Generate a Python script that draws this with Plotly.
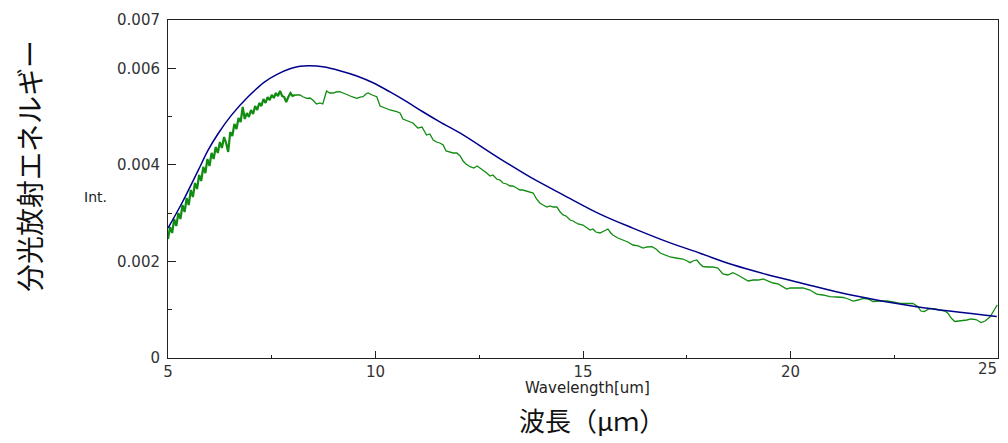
import plotly.graph_objects as go

# Blue (theoretical) curve: wavelength [um], intensity (x1e-3)
blue_x = [5.00, 5.33, 5.73, 5.97, 6.21, 6.53, 6.93, 7.33, 7.64, 7.94, 8.18, 8.42, 8.73, 9.14,
          9.55, 9.94, 10.35, 10.75, 11.14, 11.55, 12.11, 12.92, 13.72, 14.52, 15.41, 16.20,
          17.02, 17.82, 18.61, 19.43, 20.23, 21.43, 23.04, 24.97]
blue_y = [2.69, 3.20, 3.89, 4.31, 4.65, 5.03, 5.41, 5.72, 5.88, 5.99, 6.04, 6.05, 6.03, 5.95,
          5.84, 5.70, 5.51, 5.31, 5.10, 4.89, 4.62, 4.17, 3.75, 3.38, 2.98, 2.69,
          2.41, 2.17, 1.93, 1.73, 1.56, 1.31, 1.06, 0.86]

# Green (measured) curve, noisy part 5-8 um: wavelength [um], intensity (x1e-3)
green_a_x = [5.00, 5.05, 5.10, 5.15, 5.20, 5.25, 5.30, 5.35, 5.40, 5.45, 5.50, 5.55, 5.60, 5.65,
             5.70, 5.75, 5.80, 5.85, 5.90, 5.95, 6.00, 6.05, 6.10, 6.15, 6.20, 6.25, 6.30, 6.35,
             6.40, 6.45, 6.50, 6.55, 6.60, 6.65, 6.70, 6.75, 6.80, 6.85, 6.90, 6.95, 7.00, 7.05,
             7.10, 7.15, 7.20, 7.25, 7.30, 7.35, 7.40, 7.45, 7.50, 7.55, 7.60, 7.65, 7.70, 7.75,
             7.80, 7.85, 7.90, 7.95, 8.00, 8.06]
green_a_y = [2.464, 2.713, 2.589, 2.879, 2.734, 3.003, 2.879, 3.169, 3.024, 3.314, 3.169, 3.479,
             3.334, 3.624, 3.500, 3.790, 3.666, 3.956, 3.831, 4.121, 3.976, 4.246, 4.121, 4.370,
             4.246, 4.473, 4.349, 4.577, 4.453, 4.266, 4.680, 4.598, 4.846, 4.743, 4.970, 4.888,
             5.198, 4.950, 5.074, 4.991, 5.136, 5.053, 5.219, 5.136, 5.281, 5.219, 5.364, 5.281,
             5.405, 5.343, 5.447, 5.385, 5.488, 5.426, 5.530, 5.426, 5.405, 5.302, 5.405, 5.488,
             5.426, 5.447]

# Green (measured) curve, 8-25 um
green_b_x = [8.06, 8.18, 8.25, 8.34, 8.42, 8.49, 8.58, 8.66, 8.73, 8.82, 8.90, 8.98, 9.05, 9.14,
             9.22, 9.31, 9.39, 9.46, 9.55, 9.63, 9.70, 9.77, 9.82, 9.92, 10.03, 10.11, 10.23, 10.35,
             10.51, 10.59, 10.66, 10.78, 10.90, 11.02, 11.12, 11.23, 11.31, 11.39, 11.47, 11.55,
             11.63, 11.70, 11.80, 11.87, 11.96, 12.04, 12.11, 12.18, 12.28, 12.37, 12.45, 12.52,
             12.59, 12.68, 12.76, 12.83, 12.92, 13.00, 13.07, 13.16, 13.24, 13.31, 13.40, 13.48,
             13.55, 13.64, 13.72, 13.80, 13.88, 13.96, 14.04, 14.13, 14.20, 14.28, 14.37, 14.45,
             14.52, 14.59, 14.69, 14.76, 14.88, 15.00, 15.10, 15.17, 15.24, 15.31, 15.41, 15.51,
             15.60, 15.67, 15.72, 15.84, 15.96, 16.08, 16.20, 16.33, 16.45, 16.54, 16.66, 16.76,
             16.86, 16.98, 17.10, 17.24, 17.41, 17.51, 17.58, 17.65, 17.74, 17.82, 17.89, 18.01,
             18.13, 18.25, 18.37, 18.49, 18.61, 18.73, 18.86, 18.98, 19.10, 19.22, 19.34, 19.46,
             19.58, 19.70, 19.82, 19.91, 19.99, 20.13, 20.30, 20.47, 20.63, 20.78, 20.95, 21.12,
             21.27, 21.39, 21.51, 21.63, 21.75, 21.87, 21.99, 22.16, 22.32, 22.47, 22.64, 22.78,
             22.95, 23.07, 23.14, 23.22, 23.36, 23.48, 23.60, 23.72, 23.80, 23.87, 23.96, 24.08,
             24.25, 24.35, 24.47, 24.59, 24.69, 24.81, 24.90, 24.98]
green_b_y = [5.447, 5.447, 5.411, 5.378, 5.385, 5.343, 5.260, 5.281, 5.260, 5.530, 5.488, 5.488,
             5.509, 5.515, 5.488, 5.447, 5.426, 5.405, 5.378, 5.405, 5.411, 5.467, 5.488, 5.447,
             5.411, 5.219, 5.178, 5.136, 5.101, 5.074, 4.950, 4.908, 4.867, 4.763, 4.784, 4.618,
             4.639, 4.515, 4.473, 4.453, 4.411, 4.287, 4.266, 4.246, 4.246, 4.183, 4.080, 4.018,
             3.962, 3.935, 3.976, 3.935, 3.893, 3.831, 3.769, 3.790, 3.707, 3.686, 3.624, 3.604,
             3.562, 3.562, 3.521, 3.479, 3.479, 3.459, 3.438, 3.417, 3.293, 3.210, 3.169, 3.127,
             3.148, 3.127, 3.127, 3.024, 2.962, 2.941, 2.858, 2.837, 2.775, 2.754, 2.692, 2.651,
             2.672, 2.609, 2.589, 2.630, 2.672, 2.589, 2.547, 2.485, 2.444, 2.402, 2.340, 2.320,
             2.278, 2.299, 2.305, 2.257, 2.175, 2.133, 2.092, 2.071, 2.050, 2.009, 1.974, 2.009,
             2.030, 1.947, 1.895, 1.885, 1.885, 1.864, 1.740, 1.719, 1.767, 1.719, 1.657, 1.595,
             1.615, 1.615, 1.636, 1.595, 1.553, 1.533, 1.477, 1.429, 1.450, 1.450, 1.450, 1.408,
             1.325, 1.305, 1.270, 1.263, 1.253, 1.222, 1.180, 1.201, 1.236, 1.222, 1.170, 1.180,
             1.180, 1.160, 1.133, 1.129, 1.133, 1.062, 0.973, 0.963, 1.029, 1.015, 0.994, 0.973,
             0.922, 0.828, 0.756, 0.766, 0.787, 0.808, 0.797, 0.735, 0.766, 0.855, 0.973, 1.098]

SCALE = 1e-3
y_tickvals = [0, 0.002, 0.004, 0.006, 0.007]
y_ticktext = ["0", "0.002", "0.004", "0.006", "0.007"]
x_tickvals = [5, 10, 15, 20, 25]
x_ticktext = ["5", "10", "15", "20", ""]   # "25" is drawn below, kept inside the window
last_x_label = "25"

GREEN = "#108c10"
fig = go.Figure()
fig.add_trace(go.Scatter(x=green_a_x, y=[v * SCALE for v in green_a_y], mode="lines",
                         line=dict(color=GREEN, width=2.2), showlegend=False))
fig.add_trace(go.Scatter(x=green_b_x, y=[v * SCALE for v in green_b_y], mode="lines",
                         line=dict(color=GREEN, width=1.3), showlegend=False))
fig.add_trace(go.Scatter(x=blue_x, y=[v * SCALE for v in blue_y], mode="lines",
                         line=dict(color="#00008b", width=1.5, shape="spline", smoothing=1.0),
                         showlegend=False))

TICK_COLOR = "#333333"
tickfont = dict(family="DejaVu Sans", size=15, color=TICK_COLOR)
fig.update_xaxes(range=[5, 25], tickmode="array", tickvals=x_tickvals, ticktext=x_ticktext,
                 ticks="inside", ticklen=7, tickcolor="#222", tickwidth=1,
                 showline=True, linecolor="#222", linewidth=1, mirror=True,
                 showgrid=False, zeroline=False, tickfont=tickfont, ticklabelstandoff=0,
                 minor=dict(tickmode="linear", tick0=7.5, dtick=5, ticks="inside",
                            ticklen=3, tickcolor="#222", showgrid=False))
fig.update_yaxes(range=[0, 0.007], tickmode="array", tickvals=y_tickvals, ticktext=y_ticktext,
                 ticks="inside", ticklen=8, tickcolor="#222", tickwidth=1,
                 showline=True, linecolor="#222", linewidth=1, mirror=True,
                 showgrid=False, zeroline=False, tickfont=tickfont, ticklabelstandoff=4,
                 minor=dict(tickmode="linear", tick0=0.001, dtick=0.002, ticks="inside",
                            ticklen=4, tickcolor="#222", showgrid=False))

# The page body has an 8px margin, so the figure is offset by 8px.
OFF = 8
W, H = 1008 - OFF, 443 - OFF
L, T = 168 - OFF, 20 - OFF
R = OFF + W - 998
B = OFF + H - 358

fig.update_layout(
    width=W, height=H,
    margin=dict(l=L, r=R, t=T, b=B, autoexpand=False),
    paper_bgcolor="white", plot_bgcolor="white",
)

# Texts placed at window pixel positions (converted to paper coordinates)
labels = [
    ("Int.", 95, 197, 14, "DejaVu Sans", "#222", 0),
    ("Wavelength[um]", 587, 388, 15, "DejaVu Sans", "#222", 0),
    ("分光放射エネルギー", 29, 166, 28, "Noto Sans CJK JP", "#111", -90),
    ("波長（μｍ）", 592, 419, 26, "Noto Sans CJK JP", "#111", 0),
    (last_x_label, 987, 369, 15, "DejaVu Sans", TICK_COLOR, 0),
]
pw, ph = W - L - R, H - T - B
for text, px, py, size, fam, col, ang in labels:
    fig.add_annotation(
        text=text, textangle=ang, showarrow=False,
        x=(px - OFF - L) / pw, y=1 - (py - OFF - T) / ph,
        xref="paper", yref="paper", xanchor="center", yanchor="middle",
        font=dict(family=fam, size=size, color=col),
    )

fig.write_html("out.html")
